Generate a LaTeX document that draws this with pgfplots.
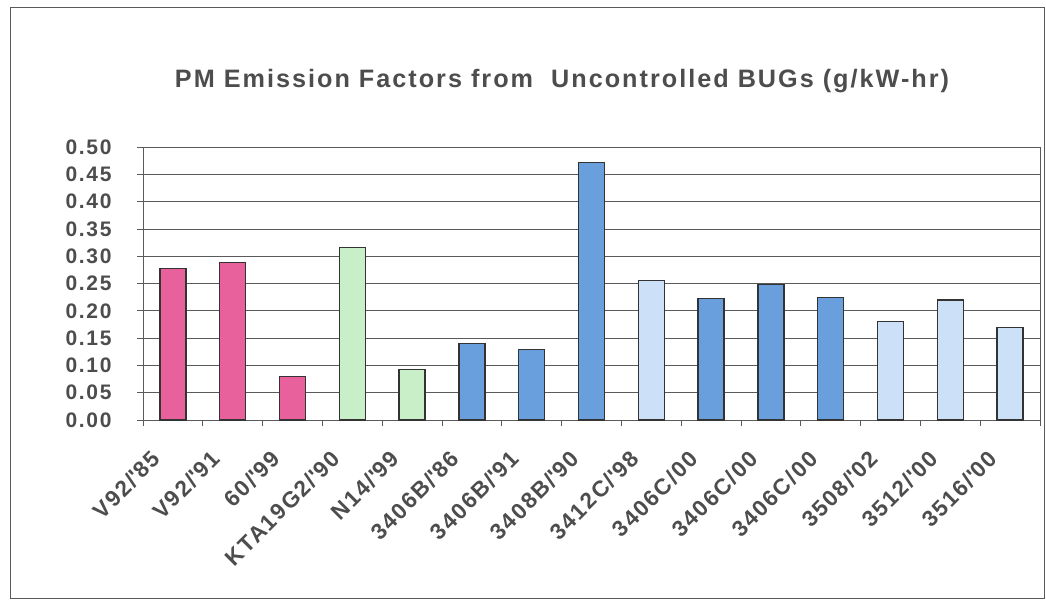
\documentclass[border=0pt]{standalone}
\usepackage{pgfplots}
\pgfplotsset{compat=1.18}
\usepackage{fontspec}
\setmainfont{Liberation Sans}[LetterSpace=8]
\definecolor{txt}{HTML}{4D4D4D}
\definecolor{gridc}{HTML}{5A5A5A}
\definecolor{pinkbar}{HTML}{E8609C}
\definecolor{greenbar}{HTML}{C8EFC8}
\definecolor{bluebar}{HTML}{6A9FDE}
\definecolor{lightbluebar}{HTML}{CCE0F8}
\definecolor{edge}{HTML}{333333}
\begin{document}
\begin{tikzpicture}[x=1pt,y=1pt]
\useasboundingbox (0pt,0pt) rectangle (1046pt,600pt);
\fill[white] (0pt,0pt) rectangle (1046pt,600pt);
\draw[gridc, line width=0.8pt] (10pt,2pt) rectangle (1044pt,593pt);
\node[text=txt, font=\fontsize{25.2}{29}\selectfont\bfseries] at (562pt,519pt)
  {PM Emission Factors from \ Uncontrolled BUGs (g/kW-hr)};
\begin{axis}[
  at={(143pt,180pt)}, anchor=south west,
  scale only axis, width=897pt, height=273pt,
  xmin=-0.5, xmax=14.5, ymin=0, ymax=0.5,
  ytick={0,0.05,...,0.5},
  /pgf/number format/fixed, /pgf/number format/fixed zerofill,
  /pgf/number format/precision=2, /pgf/number format/assume math mode=true,
  yticklabel style={text=txt, font=\fontsize{21}{24}\selectfont\bfseries, xshift=-22pt},
  ymajorgrids, major grid style={gridc, line width=0.8pt},
  axis line style={gridc, line width=0.8pt},
  tick style={gridc, line width=0.8pt},
  major tick length=6pt,
  tick align=outside, xtick pos=bottom, ytick pos=left,
  xtick={-0.5,0.5,...,14.5},
  xticklabels={V92/\textquotesingle85, V92/\textquotesingle91, 60/\textquotesingle99, KTA19G2/\textquotesingle90, N14/\textquotesingle99, 3406B/\textquotesingle86, 3406B/\textquotesingle91, 3408B/\textquotesingle90, 3412C/\textquotesingle98, 3406C/00, 3406C/00, 3406C/00, 3508/\textquotesingle02, 3512/\textquotesingle00, 3516/\textquotesingle00, {}},
  xticklabel style={text=txt, font=\fontsize{22.5}{26}\selectfont\bfseries, rotate=45, anchor=north east, xshift=-8pt, yshift=-18pt},
  every axis plot/.append style={ybar, bar width=26pt, bar shift=0pt, draw=edge, line width=1.3pt},
]
\addplot[fill=pinkbar] coordinates {(0,0.278) (1,0.288) (2,0.080)};
\addplot[fill=greenbar] coordinates {(3,0.316) (4,0.092)};
\addplot[fill=bluebar] coordinates {(5,0.140) (6,0.129) (7,0.471) (9,0.222) (10,0.248) (11,0.225)};
\addplot[fill=lightbluebar] coordinates {(8,0.255) (12,0.180) (13,0.220) (14,0.169)};
\end{axis}
\end{tikzpicture}
\end{document}
